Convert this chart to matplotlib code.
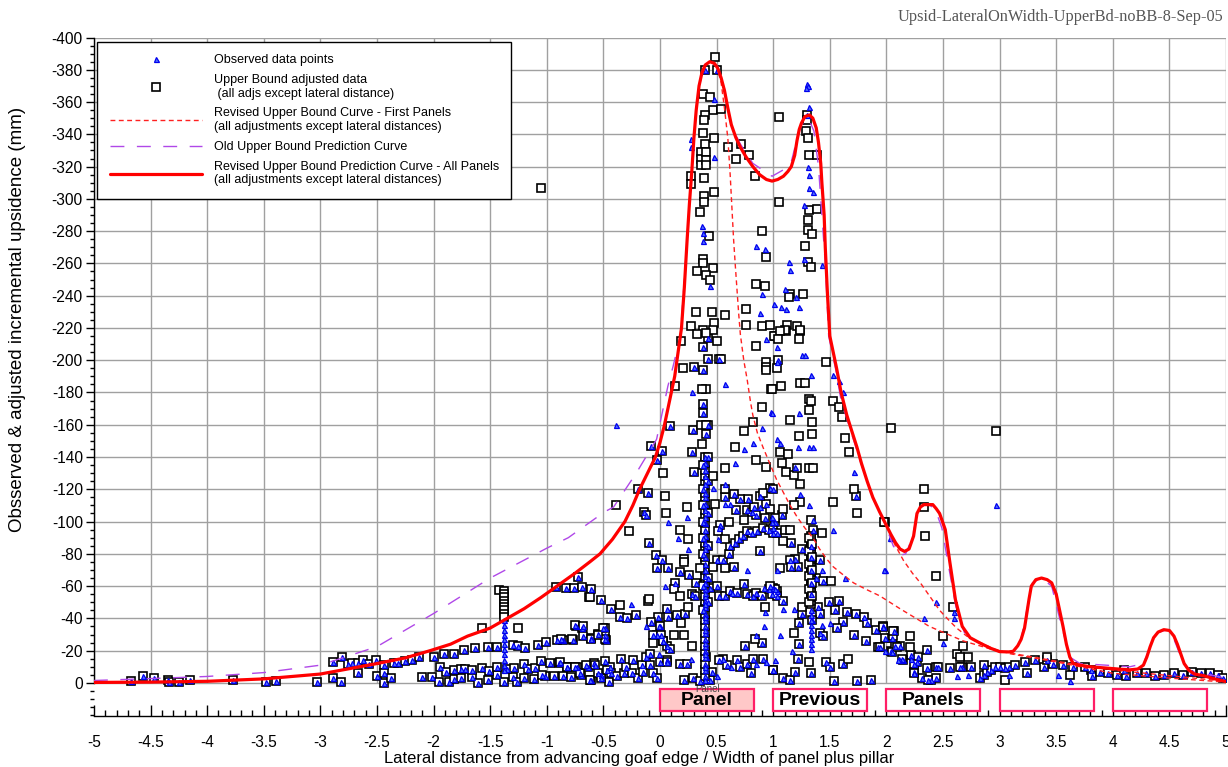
import numpy as np
import matplotlib
matplotlib.use("Agg")
import matplotlib.pyplot as plt
from matplotlib.lines import Line2D
from matplotlib.patches import Rectangle
from matplotlib.ticker import MultipleLocator

plt.rcParams['font.family'] = ['Liberation Sans', 'DejaVu Sans']
plt.rcParams['axes.unicode_minus'] = False

# ---- data: lateral distance (panel widths) vs incremental upsidence (mm) ----
# points where the observed and the upper-bound adjusted value coincide
both_pts = [
    (-4.67, -1), (-4.57, -4), (-4.47, -3), (-4.35, -2), (-4.34, -0.5), (-4.25, -0.5), (-4.15, -1.5),
    (-3.77, -1.5), (-3.48, -0.5), (-3.39, -1), (-3.03, -0.5),
    (-2.89, -13), (-2.81, -16), (-2.76, -12), (-2.72, -12.6), (-2.67, -12.6), (-2.62, -14), (-2.57, -11.8),
    (-2.51, -14), (-2.44, -11.2), (-2.35, -12.2), (-2.31, -12.2), (-2.25, -13.6), (-2.19, -14.3), (-2.13, -15.9),
    (-2.89, -2.9), (-2.82, -0.8), (-2.67, -6), (-2.50, -4.3), (-2.44, -6), (-2.44, -0.2), (-2.38, -2.9),
    (-2.10, -3.9), (-2.01, -3.9), (-1.95, -0.8), (-1.86, -0.8), (-1.82, -2.3), (-1.76, -2.9), (-1.66, -3.9),
    (-1.61, -0.2), (-1.52, -1.9), (-1.44, -5), (-1.38, -0.8), (-1.30, -3.9), (-1.26, -0.8), (-1.20, -2.9),
    (-1.11, -2.3), (-1.02, -4.3), (-0.94, -4.3), (-0.86, -4.3), (-0.79, -3.9), (-0.70, -5), (-0.61, -1.9),
    (-0.52, -5), (-0.45, -0.8),
    (-2.00, -16.3), (-1.91, -18), (-1.82, -17.8), (-1.73, -20.1), (-1.63, -21.5), (-1.52, -22.1), (-1.44, -22.5),
    (-1.30, -23.2), (-1.25, -23), (-1.19, -21.5), (-1.08, -23.2), (-1.01, -25.2), (-0.91, -26.3), (-0.86, -26.7),
    (-0.77, -26.7), (-0.61, -28.1), (-0.55, -30.4), (-0.49, -33.9), (-0.49, -29.8), (-0.48, -26.3),
    (-1.94, -9.7), (-1.89, -6.8), (-1.82, -8.1), (-1.76, -8.9), (-1.72, -8.5), (-1.66, -8.1), (-1.57, -9.3),
    (-1.51, -7.6), (-1.44, -9.7), (-1.35, -8.9), (-1.29, -9.3), (-1.20, -11.8), (-1.17, -8.5), (-1.10, -9.1),
    (-1.05, -13.8), (-1.04, -5), (-0.97, -12.2), (-0.89, -12.2), (-0.82, -9.7), (-0.73, -10.1), (-0.64, -9.7),
    (-0.58, -12.2), (-0.49, -13.6), (-0.44, -10.1),
    (-0.92, -59.7), (-0.83, -58.7), (-0.76, -58.7), (-0.72, -65.5), (-0.69, -59.7), (-0.61, -58), (-0.52, -51.5),
    (-0.74, -35.4), (-0.69, -33.9),
    (-0.08, -147), (0.02, -144), (-0.03, -138), (-0.19, -120), (-0.11, -118), (-0.14, -106), (-0.12, -104),
    (-0.10, -87), (-0.035, -79), (0.02, -76), (-0.03, -71), (0.07, -71), (-0.43, -46), (-0.35, -41),
    (-0.29, -40), (-0.21, -42), (-0.02, -41), (-0.08, -38), (0.0, -35), (-0.03, -30), (0.03, -26), (0.06, -23),
    (-0.75, -36), (-0.68, -35), (-0.68, -29), (-0.61, -27.5), (-0.50, -34), (-0.49, -27), (-0.87, -27),
    (-0.88, -13), (-0.82, -10), (-0.75, -10), (-0.71, -6), (-0.65, -11), (-0.62, -2), (-0.57, -11), (-0.55, -6),
    (-0.52, -3), (-0.47, -8), (-0.43, -6), (-0.38, -4), (-0.34, -15), (-0.32, -6), (-0.30, -10), (-0.25, -6),
    (-0.24, -14), (-0.19, -3), (-0.16, -11), (-0.15, -7), (-0.12, -16), (-0.09, -11), (-0.06, -6), (-0.03, -3),
    (0.0, -13), (0.06, -14),
    (0.09, -159), (0.18, -69), (0.26, -67), (0.13, -62), (0.32, -62), (0.28, -55), (0.31, -54), (0.06, -46),
    (0.07, -41), (0.15, -42), (0.22, -43), (-0.06, -30), (0.01, -30), (0.03, -26), (0.09, -21), (-0.09, -18),
    (0.06, -13), (0.18, -12), (0.24, -12), (0.21, -2), (0.29, -3), (0.35, -1), (0.44, -2), (0.46, -7),
    (0.56, -15), (0.52, -14), (0.41, -16), (0.59, -11), (0.68, -14), (0.71, -10), (0.75, -23), (0.77, -12),
    (0.80, -6), (0.90, -25), (0.91, -15), (1.00, -8), (0.82, -15),
    (0.50, -76), (0.56, -76), (0.61, -80), (0.65, -72), (0.62, -85), (0.66, -87), (0.70, -89), (0.73, -91),
    (0.77, -94), (0.81, -93), (0.86, -94), (0.91, -96), (0.96, -95), (1.00, -96), (1.02, -100), (0.53, -98),
    (0.67, -107), (0.77, -107), (0.81, -106), (0.83, -109), (0.85, -104), (0.93, -102), (0.94, -111),
    (0.97, -121), (1.00, -120), (0.88, -116), (0.78, -114), (0.71, -114), (0.65, -117), (0.57, -115),
    (0.44, -59), (0.50, -60), (0.52, -54), (0.57, -54), (0.62, -57), (0.68, -56), (0.74, -61), (0.77, -55),
    (0.82, -54), (0.85, -56), (0.90, -54), (0.96, -58), (1.00, -59), (1.03, -57), (0.88, -82),
    (0.52, -201), (0.30, -196), (0.29, -157), (0.41, -154), (0.28, -143), (0.30, -131),
    (0.40, -380), (0.50, -380), (1.30, -352),
    (1.04, -200), (1.73, -116), (1.08, -104), (1.00, -93), (1.03, -93), (1.16, -87), (1.25, -83), (1.19, -77),
    (1.15, -76), (1.22, -72), (1.16, -72), (1.35, -95), (1.41, -76), (1.38, -65), (1.44, -63), (1.02, -58),
    (0.99, -55), (1.03, -54), (0.97, -60), (1.09, -51), (1.25, -43), (1.40, -47), (1.41, -43), (1.49, -50),
    (1.55, -45), (1.58, -51), (1.65, -44), (1.73, -43), (1.80, -41), (1.83, -37), (1.91, -33), (1.97, -35),
    (2.07, -32), (2.04, -20), (2.12, -23), (2.22, -17), (2.15, -14), (2.27, -13), (2.36, -9), (2.44, -10),
    (2.56, -9), (2.67, -10), (2.31, -3), (2.39, -2), (2.44, -3), (2.24, -7), (1.23, -37), (1.34, -39),
    (1.62, -38), (1.56, -34), (1.41, -31), (1.44, -29), (1.23, -24), (1.22, -15), (1.47, -13), (1.50, -10),
    (1.62, -12), (1.71, -30), (1.82, -26), (1.93, -22), (1.54, -1), (1.74, -1), (1.86, -2), (1.09, -3),
    (1.15, -2), (1.19, -7), (1.33, -6), (1.00, -8),
    (1.97, -34.5), (1.99, -28), (2.05, -28), (2.08, -23), (2.36, -20.5), (1.94, -22), (2.05, -19), (2.14, -15),
    (2.28, -16), (2.24, -12), (2.24, -6), (2.37, -2), (2.46, -10), (2.65, -10), (2.75, -10), (2.83, -3),
    (2.86, -5), (2.89, -7), (2.92, -8), (2.86, -11), (2.96, -10), (3.00, -10), (3.05, -9), (3.08, -10),
    (3.14, -11), (3.22, -13), (3.24, -6), (3.31, -14), (3.39, -10), (3.42, -14), (3.47, -12), (3.56, -11),
    (3.65, -10), (3.75, -10), (3.81, -8), (3.82, -4), (3.89, -7), (3.96, -6), (4.04, -5), (4.12, -4),
    (4.10, -8), (4.21, -6), (4.29, -6), (4.37, -4), (4.45, -5), (4.54, -6), (4.62, -5), (4.70, -7),
    (4.78, -6), (4.86, -6), (4.93, -5), (4.97, -3),
    # stack of readings at about 0.4 panel widths
    (0.40, -4), (0.40, -8), (0.40, -12), (0.40, -16), (0.40, -20), (0.40, -23), (0.40, -27), (0.40, -31),
    (0.40, -35), (0.40, -39), (0.40, -43), (0.40, -47), (0.40, -51), (0.40, -54), (0.40, -58), (0.40, -62),
    (0.40, -66), (0.40, -70), (0.40, -74), (0.40, -78), (0.40, -83), (0.40, -87), (0.40, -91), (0.40, -95),
    (0.40, -99), (0.40, -103), (0.40, -107), (0.40, -111), (0.40, -115), (0.40, -118), (0.40, -123),
    (0.40, -128), (0.40, -132), (0.40, -136), (0.40, -140),
    (0.38, -45), (0.38, -60), (0.38, -80), (0.38, -90), (0.38, -100), (0.38, -110), (0.38, -120),
    (0.38, -135), (0.38, -167), (0.38, -173), (0.38, -194), (0.38, -208),
    (0.42, -50), (0.42, -65), (0.42, -85), (0.42, -105), (0.42, -125), (0.42, -140), (0.42, -160),
    (0.42, -201), (0.42, -214),
]

# observed readings with no matching adjusted value shown
obs_only_pts = [
    (-1.38, -39), (-1.38, -36), (-1.38, -33), (-1.38, -30), (-1.38, -27), (-1.38, -24), (-1.38, -21),
    (-1.38, -18), (-1.38, -14), (-1.38, -11), (-1.38, -8),
    (-0.39, -160), (0.07, -100), (-0.26, -49), (0.04, -60), (0.16, -90), (0.24, -103), (0.25, -83),
    (-0.01, -35), (-0.12, -35), (-0.01, -18), (0.27, -15), (0.50, -4), (0.63, -10), (0.94, -13), (0.85, -12),
    (0.51, -89), (0.88, -109), (0.99, -103), (0.57, -111), (0.62, -111), (0.52, -96), (0.64, -56), (0.92, -59),
    (0.93, -44), (0.85, -30), (0.77, -70), (1.03, -70), (0.92, -35),
    (0.66, -136), (0.74, -145), (0.82, -149), (0.98, -168), (0.90, -158), (1.03, -199), (0.94, -213),
    (0.57, -185), (0.28, -180), (0.57, -123), (0.47, -121),
    (0.48, -362), (0.27, -337), (0.27, -332), (0.48, -326), (0.37, -283), (0.38, -279), (0.38, -274),
    (0.93, -269), (0.85, -271), (1.14, -261), (1.15, -256), (0.44, -246), (0.90, -241), (1.10, -244),
    (1.20, -239), (1.01, -235), (1.07, -233), (1.11, -232), (1.23, -233), (0.88, -229),
    (1.30, -371), (1.31, -370), (1.29, -369), (1.32, -357), (1.31, -320), (1.32, -315), (1.32, -307),
    (1.35, -304), (1.27, -296), (1.27, -263), (1.43, -259),
    (1.03, -208), (1.25, -203), (1.28, -203), (1.33, -191), (1.23, -167), (0.99, -167), (1.53, -191),
    (1.58, -187), (1.62, -180), (1.71, -131), (1.53, -95), (2.04, -90), (1.99, -70), (1.63, -65), (2.44, -50),
    (2.60, -44), (2.33, -40), (2.50, -25), (1.03, -151), (1.06, -149), (1.22, -146), (1.32, -146),
    (1.35, -146), (1.19, -134), (1.24, -117), (1.32, -110), (0.99, -100), (1.35, -101), (1.43, -70),
    (1.09, -46), (1.18, -46), (1.43, -36), (1.50, -37), (1.06, -30), (1.17, -20), (1.02, -14), (2.11, -15),
    (2.97, -110), (2.60, -40), (2.03, -90), (1.98, -70), (1.99, -20), (2.10, -14), (2.22, -15), (2.62, -4),
    (2.72, -5), (3.08, -5), (3.52, -5), (3.62, -1),
    (1.33, -21), (1.33, -24), (1.33, -27), (1.33, -30), (1.33, -33), (1.33, -36), (1.33, -39), (1.33, -42),
    (1.33, -45), (1.33, -55), (1.33, -62), (1.33, -70), (1.33, -78), (1.33, -85),
    (0.40, -2), (0.40, -10), (0.40, -18), (0.40, -25), (0.40, -33), (0.40, -41), (0.40, -49), (0.40, -56),
]

# upper bound adjusted values with no observed reading at the same spot
adj_only_pts = [
    (-1.57, -33.9), (-1.25, -33.9), (-1.42, -57.5), (-0.63, -53), (-1.05, -307),
    (-1.38, -57), (-1.38, -55), (-1.38, -53), (-1.38, -51), (-1.38, -49), (-1.38, -47), (-1.38, -45),
    (-1.38, -43), (-1.38, -41),
    (0.03, -130), (0.04, -116), (-0.39, -110), (0.05, -105), (-0.27, -94), (-0.62, -53.5), (-0.35, -48),
    (-0.11, -51), (-0.78, -27), (-0.55, -30),
    (0.25, -89), (0.18, -95), (0.24, -109), (0.21, -77), (0.21, -75), (0.12, -58), (0.18, -54), (0.35, -71),
    (0.25, -47), (-0.10, -52), (0.19, -37), (0.12, -30), (0.21, -30), (-0.06, -25), (0.28, -23), (0.84, -27),
    (0.47, -72), (0.57, -71), (0.51, -94), (0.57, -89), (0.61, -100), (0.74, -101), (0.91, -118),
    (0.97, -108), (0.93, -47),
    (0.57, -133), (0.85, -138), (0.94, -134), (0.66, -146), (0.90, -171), (0.74, -156), (0.82, -162),
    (0.98, -182), (0.94, -199), (0.94, -196), (0.94, -194), (0.85, -209), (1.02, -215), (0.50, -212),
    (0.54, -201), (0.41, -182), (0.37, -182), (0.36, -160), (0.41, -160), (0.37, -148), (0.47, -128),
    (0.57, -120), (0.49, -111), (0.20, -195), (0.13, -184), (0.19, -212),
    (0.49, -388), (0.38, -365), (0.44, -363), (0.47, -355), (0.54, -356), (0.40, -352), (0.39, -349),
    (0.38, -341), (0.48, -338), (0.40, -334), (0.60, -332), (0.36, -329), (0.36, -325), (0.36, -321),
    (0.41, -329), (0.41, -324), (0.41, -321), (0.67, -325), (0.72, -334), (0.79, -327), (0.84, -314),
    (1.05, -351), (1.05, -298), (0.39, -313), (0.27, -314), (0.27, -309), (0.48, -304), (0.39, -302),
    (0.39, -298), (0.35, -292), (0.43, -277), (0.90, -280), (0.94, -264), (0.38, -263), (0.38, -260),
    (0.47, -257), (0.33, -255), (0.41, -253), (0.44, -250), (0.85, -247), (0.93, -246), (1.15, -241),
    (1.14, -239), (1.26, -241), (0.76, -232), (0.32, -230), (0.46, -230), (0.57, -228), (0.48, -223),
    (0.38, -219), (0.47, -219), (0.27, -221), (0.33, -216), (0.41, -217), (0.76, -222), (0.90, -221),
    (0.97, -222), (1.12, -222), (1.11, -218), (1.21, -221), (1.24, -218), (1.01, -215),
    (1.30, -349), (1.29, -342), (1.31, -338), (1.32, -327), (1.39, -327), (1.32, -293), (1.31, -287),
    (1.31, -281), (1.34, -278), (1.39, -294), (1.28, -271), (1.31, -261), (1.33, -258),
    (1.10, -219), (1.24, -219), (1.23, -213), (1.03, -195), (1.47, -199), (0.99, -182), (1.07, -184),
    (1.24, -186), (1.28, -186), (1.32, -176), (1.33, -175), (1.32, -169), (1.15, -163), (1.34, -162),
    (1.53, -175), (1.58, -171), (1.61, -165), (1.63, -152), (1.67, -143), (1.71, -120), (1.53, -112),
    (1.74, -105), (1.99, -100), (2.04, -158), (1.51, -63), (2.33, -120), (2.33, -109), (2.34, -91),
    (2.44, -66), (2.59, -47), (2.50, -29), (2.62, -18), (2.68, -23), (2.72, -16), (1.06, -218), (1.04, -213),
    (1.23, -153), (1.34, -154), (1.06, -143), (1.13, -142), (1.08, -136), (1.11, -131), (1.18, -129),
    (1.21, -133), (1.32, -133), (1.35, -133), (1.24, -123), (1.24, -112), (1.18, -110), (1.09, -108),
    (1.02, -102), (1.10, -95), (1.15, -95), (1.09, -88), (1.06, -71), (1.33, -101), (1.43, -93), (1.25, -47),
    (1.18, -31), (2.06, -29), (2.21, -29), (1.32, -13), (1.66, -15),
    (2.97, -156), (1.98, -100), (2.06, -32), (2.09, -22), (2.21, -22), (2.65, -16), (3.05, -2), (3.42, -16),
    (3.62, -5),
    # dense stack near 1.33 panel widths
    (1.33, -49), (1.33, -51), (1.33, -53), (1.33, -55), (1.33, -57), (1.33, -59), (1.33, -61), (1.33, -63),
    (1.33, -65), (1.33, -67), (1.33, -69), (1.33, -71), (1.33, -73), (1.33, -75), (1.33, -77), (1.33, -79),
    (1.33, -81), (1.33, -83), (1.33, -85), (1.33, -87), (1.33, -89), (1.33, -91),
    (1.32, -50), (1.32, -58), (1.32, -66), (1.32, -74), (1.32, -82), (1.32, -90),
    (1.34, -54), (1.34, -62), (1.34, -70), (1.34, -78), (1.34, -86),
]

# revised upper bound prediction curve, all panels
allp_x = [-5.0, -4.5, -4.0, -3.5, -3.0, -2.5, -2.25, -2.03, -1.85, -1.7, -1.5, -1.35, -1.2, -1.05, -0.91,
          -0.75, -0.62, -0.53, -0.42, -0.31, -0.24, -0.18, -0.11, -0.04, 0.0, 0.04, 0.07, 0.10, 0.13, 0.15,
          0.17, 0.19, 0.215, 0.24, 0.26, 0.28, 0.30, 0.32, 0.345, 0.37, 0.40, 0.44, 0.48, 0.51, 0.54, 0.57,
          0.60, 0.63, 0.67, 0.71, 0.76, 0.82, 0.88, 0.94, 0.99, 1.04, 1.09, 1.13, 1.16, 1.19, 1.21, 1.23, 1.25,
          1.28, 1.32, 1.35, 1.38, 1.40, 1.42, 1.43, 1.45, 1.46, 1.48, 1.50, 1.53, 1.56, 1.60, 1.65, 1.69, 1.74,
          1.78, 1.83, 1.88, 1.94, 1.99, 2.04, 2.08, 2.12, 2.16, 2.20, 2.24, 2.27, 2.30, 2.33, 2.37, 2.41, 2.44,
          2.47, 2.52, 2.56, 2.61, 2.67, 2.74, 2.83, 2.92, 3.0, 3.08, 3.12, 3.16, 3.19, 3.22, 3.24, 3.26, 3.28,
          3.32, 3.37, 3.42, 3.46, 3.50, 3.53, 3.56, 3.59, 3.62, 3.65, 3.71, 3.8, 3.94, 4.05, 4.15, 4.22, 4.27,
          4.30, 4.33, 4.36, 4.40, 4.45, 4.50, 4.54, 4.57, 4.60, 4.63, 4.67, 4.72, 4.80, 4.9, 5.0]
allp_y = [-0.3, -0.5, -1, -2.5, -5.5, -12, -15.5, -20, -24, -29, -34, -40, -46, -53, -60,
          -68, -75, -80, -89, -100, -110, -120, -130, -140, -149, -160, -170, -180, -190, -200,
          -210, -220, -245, -275, -297, -316, -338, -355, -370, -378, -383, -385, -384, -381, -375, -367,
          -356, -346, -338, -332, -326, -320, -315, -312, -311, -312, -314, -317, -320, -327, -336, -343, -347,
          -351, -352, -350, -344, -335, -322, -310, -290, -270, -240, -215, -205, -195, -180, -166, -157, -146,
          -136, -125, -115, -106, -99, -92, -87, -83, -81.5, -83, -91, -105, -109, -110.5, -110.5, -110.5, -108,
          -105, -95, -75, -51.5, -35, -28, -24.6, -21.5, -19.4, -19.2, -19.6, -23, -27, -34, -43, -52, -60,
          -64, -65, -64, -62, -55, -45, -35, -24, -16, -12, -11, -10, -9.2, -8.6, -8.1, -8.6, -11,
          -16, -22.5, -28, -31.5, -33, -32.5, -29, -24, -18, -12, -8, -5.5, -4.5, -2.5, -0.8]

# revised upper bound curve, first panels (two branches)
first_x = [0.50, 0.54, 0.57, 0.60, 0.62, 0.635, 0.65, 0.665, 0.68, 0.695, 0.71, 0.74, 0.77, 0.80, 0.82,
           0.86, 0.91, 0.97, 1.03, 1.09, 1.15, 1.21, 1.28, 1.35, 1.41, 1.47, 1.53, 1.60, 1.71, 1.82, 1.94,
           2.12, 2.38, 2.68, 2.97, 3.3, 3.7, 4.0, 4.5, 5.0]
first_y = [-383, -372, -356, -337, -315, -295, -275, -259, -244, -229, -216, -200, -188, -174, -166,
           -155, -146, -136, -126, -118, -110, -103, -96, -90, -83, -77, -72, -68, -62, -58, -54,
           -46, -35, -26, -20, -16, -11, -8, -4.5, -1]
first2_x = [2.03, 2.08, 2.15, 2.23, 2.30, 2.40, 2.47, 2.55, 2.62, 2.71, 2.83, 2.95, 3.1, 3.5, 4.0, 4.5, 5.0]
first2_y = [-92, -85, -76, -68, -62, -52, -45, -39, -34, -29, -25, -21, -18, -13, -6, -3, -0.5]

# old upper bound prediction curve
old_x = [-5.0, -4.5, -4.0, -3.5, -3.0, -2.5, -2.0, -1.5, -1.0, -0.81, -0.49, -0.41, -0.21, -0.03, 0.07,
         0.115, 0.18, 0.24, 0.28, 0.32, 0.37, 0.44, 0.51, 0.57, 0.63, 0.71, 0.82, 0.99, 1.09, 1.16, 1.21, 1.25,
         1.31, 1.36, 1.40, 1.43, 1.46, 1.49, 1.55, 1.60, 1.69, 1.78, 1.88, 1.99, 2.06, 2.12, 2.17, 2.23, 2.28,
         2.36, 2.43, 2.49, 2.55, 2.62, 2.70, 2.82, 2.99, 3.11, 3.19, 3.24, 3.29, 3.37, 3.46, 3.53, 3.62, 3.71,
         3.94, 4.15, 4.27, 4.33, 4.39, 4.48, 4.54, 4.62, 4.69, 4.86, 5.0]
old_y = [-1.5, -2.7, -4, -6.4, -11, -22.5, -43, -65, -83.5, -90, -106, -109, -130, -151, -184,
         -196, -215, -275, -316, -357, -378, -385, -382, -368, -345, -334, -322, -314, -318, -323, -337, -346,
         -350, -342, -320, -290, -260, -215, -195, -175, -155, -135, -115, -98, -85, -79, -80, -90, -108,
         -111, -108, -96, -72, -45, -29, -25, -19.5, -19, -27, -45, -62, -65, -60, -40, -16, -12,
         -11, -10, -12, -22, -31, -33, -27, -13, -7, -5, -3]

panel_starts = [0, 1, 2, 3, 4]
panel_labels = ['Panel', 'Previous', 'Panels', '', '']
x_ticks = np.arange(-5, 5.01, 0.5)
x_tick_labels = ['-5', '-4.5', '-4', '-3.5', '-3', '-2.5', '-2', '-1.5', '-1', '-0.5', '0',
                 '0.5', '1', '1.5', '2', '2.5', '3', '3.5', '4', '4.5', '5']
y_ticks = np.arange(-400, 1, 20)


obs_x = [p[0] for p in both_pts + obs_only_pts]
obs_y = [p[1] for p in both_pts + obs_only_pts]
adj_x = [p[0] for p in both_pts + adj_only_pts]
adj_y = [p[1] for p in both_pts + adj_only_pts]

fig = plt.figure(figsize=(12.28, 7.67), dpi=100)
ax = fig.add_axes([0.0765, 0.0665, 0.9219, 0.8846])
ax.set_xlim(-5, 5)
ax.set_ylim(20.5, -400)

# grid only over the data region
grid_col = '#a0a0a0'
ax.hlines(y_ticks, -5, 5, colors=grid_col, lw=1.0, zorder=1)
ax.vlines(x_ticks, -400, 0, colors=grid_col, lw=1.0, zorder=1)

ax.plot(adj_x, adj_y, ls='none', marker='s', ms=6.3, mfc='white', mec='black', mew=1.2, zorder=3)
ax.plot(obs_x, obs_y, ls='none', marker='^', ms=3.6, mfc='#5070ff', mec='#0000ee', mew=0.9, zorder=4)

l_first, = ax.plot(first_x, first_y, color='#ff2020', lw=1.0, dashes=(3.5, 2.5), zorder=5)
ax.plot(first2_x, first2_y, color='#ff2020', lw=1.0, dashes=(3.5, 2.5), zorder=5)
l_old, = ax.plot(old_x, old_y, color='#b048e8', lw=1.0, dashes=(10, 9), zorder=5)
l_all, = ax.plot(allp_x, allp_y, color='#ff0000', lw=2.3, zorder=6,
                 solid_joinstyle='round', solid_capstyle='round')

# panel boxes under the data region
for i, (x0, lab) in enumerate(zip(panel_starts, panel_labels)):
    face = '#ffc8c8' if i == 0 else 'white'
    ax.add_patch(Rectangle((x0, 4.0), 0.83, 13.3, facecolor=face, edgecolor='#ff1f66', lw=1.6, zorder=2))
    if lab:
        ax.text(x0 + 0.415, 10.6, lab, ha='center', va='center', fontsize=14, fontweight='bold', zorder=3)
ax.text(0.42, 3.6, 'Panel', ha='center', va='center', fontsize=7, color='#444444', zorder=2)

# axes styling
for s in ['top', 'right']:
    ax.spines[s].set_visible(False)
ax.spines['left'].set_bounds(-400, 0)
ax.spines['left'].set_linewidth(1.0)
ax.spines['bottom'].set_linewidth(1.0)

ax.set_yticks(y_ticks)
ax.set_yticklabels([str(int(v)) for v in y_ticks])
ax.yaxis.set_minor_locator(MultipleLocator(5))
ax.tick_params(axis='y', which='major', direction='out', length=6, width=1, labelsize=11.2, pad=2)
ax.tick_params(axis='y', which='minor', direction='out', length=3, width=1)

ax.set_xticks(x_ticks)
ax.set_xticklabels(x_tick_labels)
ax.xaxis.set_minor_locator(MultipleLocator(0.1))
ax.tick_params(axis='x', which='major', direction='in', length=8, width=1, labelsize=11.2, pad=14)
ax.tick_params(axis='x', which='minor', direction='in', length=4.5, width=1)

ax.set_xlabel('Lateral distance from advancing goaf edge / Width of panel plus pillar', fontsize=11.9,
              labelpad=0)
ax.xaxis.set_label_coords(0.482, -0.052)
ax.set_ylabel('Obsserved & adjusted incremental upsidence (mm)', fontsize=13.5)
ax.yaxis.set_label_coords(-0.060, 0.585)

h_obs = Line2D([], [], ls='none', marker='^', ms=3.6, mfc='#5070ff', mec='#0000ee', mew=0.9)
h_adj = Line2D([], [], ls='none', marker='s', ms=6.3, mfc='white', mec='black', mew=1.2)
leg = ax.legend([h_obs, h_adj, l_first, l_old, l_all],
                ['Observed data points',
                 'Upper Bound adjusted data\n (all adjs except lateral distance)',
                 'Revised Upper Bound Curve - First Panels\n(all adjustments except lateral distances)',
                 'Old Upper Bound Prediction Curve',
                 'Revised Upper Bound Prediction Curve - All Panels\n(all adjustments except lateral distances)'],
                loc='upper left', bbox_to_anchor=(0.003, 0.994), borderaxespad=0, fontsize=9,
                fancybox=False, framealpha=1, edgecolor='black', handlelength=7.4, handletextpad=0.9,
                labelspacing=0.62, borderpad=1.0)
leg.get_frame().set_linewidth(1.0)
leg.set_zorder(10)

fig.text(0.9965, 0.978, 'Upsid-LateralOnWidth-UpperBd-noBB-8-Sep-05', ha='right', va='center',
         fontsize=11.7, color='#555555', family=['Liberation Serif', 'DejaVu Serif'])

fig.savefig('out.png', dpi=100)
